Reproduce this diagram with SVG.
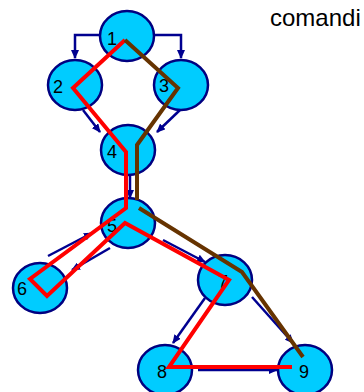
<svg xmlns="http://www.w3.org/2000/svg" width="364" height="392" viewBox="0 0 364 392">
<style>
.node ellipse{fill:#00ccff;stroke:#000080;stroke-width:2.5}
.node text{font-family:"Liberation Sans",Arial,sans-serif;font-size:18px;fill:#000}
.arr{fill:none;stroke:#000090;stroke-width:2.5;marker-end:url(#ah)}
.red{fill:none;stroke:#ff0000;stroke-width:4;stroke-linejoin:miter}
.brown{fill:none;stroke:#663300;stroke-width:4;stroke-linejoin:miter}
.lbl{font-family:"Liberation Sans",Arial,sans-serif;font-size:24px;fill:#000}
</style>
<defs>
<marker id="ah" markerUnits="userSpaceOnUse" markerWidth="9" markerHeight="8" refX="8" refY="4" orient="auto">
<path d="M0,0 L9,4 L0,8 z" fill="#000090"/>
</marker>
</defs>
<rect width="364" height="392" fill="#fff"/>
<g id="n1" class="node"><ellipse cx="127" cy="36" rx="27" ry="25"/><text x="107" y="45">1</text></g>
<g id="n2" class="node"><ellipse cx="75" cy="85" rx="27" ry="25"/><text x="53" y="93">2</text></g>
<g id="n3" class="node"><ellipse cx="181" cy="85" rx="27" ry="25"/><text x="159" y="92">3</text></g>
<g id="n4" class="node"><ellipse cx="128" cy="150" rx="27" ry="25"/><text x="107" y="158">4</text></g>
<g id="n5" class="node"><ellipse cx="128" cy="223" rx="27" ry="25"/><text x="107" y="232">5</text></g>
<g id="n6" class="node"><ellipse cx="40" cy="288" rx="27" ry="25"/><text x="17" y="295">6</text></g>
<g id="n7" class="node"><ellipse cx="225" cy="280" rx="27" ry="25"/><text x="218" y="288">7</text></g>
<g id="n8" class="node"><ellipse cx="165" cy="370" rx="27" ry="25"/><text x="157" y="378">8</text></g>
<g id="n9" class="node"><ellipse cx="305" cy="370" rx="27" ry="25"/><text x="299" y="378">9</text></g>
<g id="connectors">
<path class="arr" d="M100,35 H75 V58"/>
<path class="arr" d="M155,35 H181 V58"/>
<path class="arr" d="M83,110 L100,132"/>
<path class="arr" d="M180,110 L157,132"/>
<path class="arr" d="M130,176 L130,198"/>
<path class="arr" d="M48,256 L92,233"/>
<path class="arr" d="M110,248 L72,270"/>
<path class="arr" d="M163,240 L205,262"/>
<path class="arr" d="M205,298 L173,343"/>
<path class="arr" d="M252,297 L293,343"/>
<path class="arr" d="M198,370 L277,370"/>
<path class="red" d="M125,40 L73,88 L126,152 L126,208 L30,279 L47,296 L125,223 L229,280 L169,367 L292,367"/>
<path class="brown" d="M125,40 L178,88 L137,145 L137,200"/>
<path class="brown" d="M139,208 L242,272 L303,357"/>
</g>
<text class="lbl" x="270" y="26">comandi</text>
</svg>
